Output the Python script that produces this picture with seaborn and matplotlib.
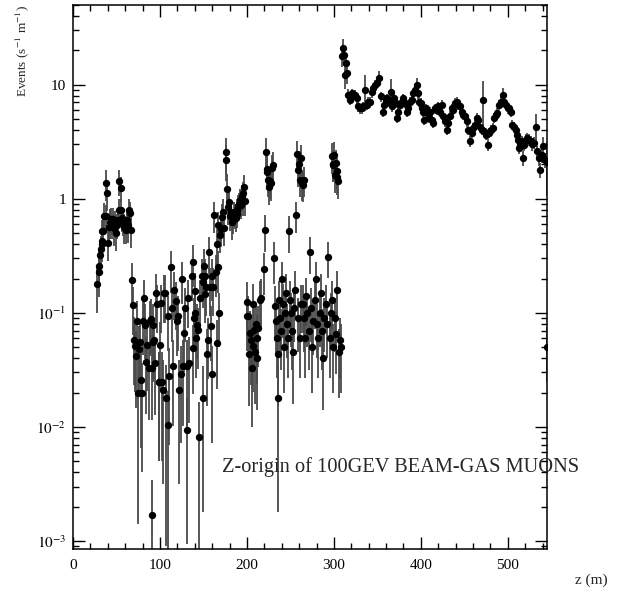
import numpy as np
import pandas as pd
import matplotlib
matplotlib.use("Agg")
import matplotlib.pyplot as plt
import seaborn as sns
from matplotlib.ticker import (FixedLocator, FixedFormatter, MultipleLocator,
                               LogLocator, NullFormatter)

# ---------------- data (z in m, rate in s^-1 m^-1, relative error) ----------------
# cluster near z = 30-67 m
zA = [28.0, 29.5, 30.3, 31.0, 32.2, 32.9, 33.3, 33.7, 34.9, 35.6, 37.5, 37.9, 38.7,
      40.6, 41.8, 42.5, 43.7, 44.8, 45.6, 46.7, 47.9, 49.0, 50.2, 51.3, 52.9, 53.3,
      54.8, 55.2, 56.3, 57.9, 59.0, 60.5, 62.5, 63.6, 64.8, 65.9, 66.7]
yA = [0.18, 0.23, 0.26, 0.32, 0.36, 0.43, 0.40, 0.52, 0.52, 0.70, 1.37, 0.70, 1.12,
      0.41, 0.57, 0.63, 0.66, 0.59, 0.66, 0.55, 0.63, 0.50, 0.59, 0.65, 0.80, 1.42,
      0.80, 1.24, 0.68, 0.63, 0.57, 0.53, 0.65, 0.59, 0.80, 0.75, 0.53]
eA = [0.45, 0.4, 0.35, 0.3, 0.3, 0.3, 0.3, 0.25, 0.3, 0.3, 0.3, 0.25, 0.3,
      0.3, 0.25, 0.3, 0.25, 0.25, 0.25, 0.3, 0.25, 0.3, 0.25, 0.25, 0.25, 0.25,
      0.25, 0.25, 0.25, 0.25, 0.3, 0.25, 0.25, 0.3, 0.25, 0.25, 0.3]

# low-rate region z = 67-171 m
zB = [67.5, 68.6, 70.1, 71.6, 72.8, 73.6, 74.7, 76.2, 77.0, 78.2, 79.7, 80.8, 82.0,
      83.1, 84.3, 85.4, 87.0, 88.5, 89.7, 90.5, 91.0, 92.0, 92.3, 93.1, 94.3, 95.7,
      96.9, 98.5, 99.2, 100.0, 101.1, 102.6, 103.8, 104.6, 105.7, 106.9, 108.9, 109.5,
      110.7, 112.3, 113.4, 115.3, 116.1, 118.4, 119.2, 121.0, 121.5, 123.8, 124.9, 126.8,
      127.3, 128.7, 130.7, 131.2, 132.5, 133.7, 136.4, 137.6, 138.3, 139.1, 140.2, 140.6,
      141.4, 142.2, 144.0, 145.2, 146.0, 147.9, 149.1, 149.8, 150.3, 151.7, 152.3, 152.9,
      154.4, 155.5, 156.7, 157.5, 158.3, 159.4, 159.9, 160.6, 162.4, 164.0, 165.2, 165.7,
      166.3, 167.0, 168.2, 169.0, 170.1]
yB = [0.195, 0.116, 0.058, 0.051, 0.042, 0.084, 0.020, 0.048, 0.056, 0.026, 0.020, 0.085, 0.134,
      0.079, 0.037, 0.052, 0.033, 0.084, 0.088, 0.033, 0.0017, 0.055, 0.079, 0.058, 0.036, 0.15,
      0.12, 0.025, 0.025, 0.052, 0.122, 0.025, 0.021, 0.149, 0.149, 0.018, 0.0104, 0.093,
      0.028, 0.25, 0.11, 0.034, 0.157, 0.128, 0.084, 0.093, 0.021, 0.029, 0.20, 0.034,
      0.067, 0.11, 0.0094, 0.034, 0.134, 0.036, 0.21, 0.28, 0.049, 0.09, 0.10, 0.154,
      0.06, 0.079, 0.071, 0.0082, 0.134, 0.21, 0.185, 0.018, 0.26, 0.147, 0.21, 0.17,
      0.044, 0.058, 0.34, 0.17, 0.076, 0.029, 0.21, 0.17, 0.72, 0.23, 0.40, 0.054,
      0.59, 0.25, 0.10, 0.48, 0.54]
eB = [0.4, 0.45, 0.6, 0.6, 0.65, 0.5, 0.93, 0.6, 0.55, 0.75, 0.8, 0.5, 0.45,
      0.5, 0.65, 0.6, 0.65, 0.5, 0.5, 0.65, 1.0, 0.55, 0.5, 0.55, 0.65, 0.45,
      0.45, 0.8, 0.8, 0.6, 0.45, 0.8, 0.85, 0.45, 0.45, 0.95, 1.0, 0.5,
      0.75, 0.4, 0.5, 0.7, 0.45, 0.45, 0.5, 0.5, 0.85, 0.75, 0.4, 0.7,
      0.55, 0.5, 0.9, 0.7, 0.45, 0.7, 0.4, 0.4, 0.6, 0.5, 0.5, 0.45,
      0.55, 0.5, 0.55, 1.0, 0.45, 0.4, 0.4, 0.9, 0.4, 0.45, 0.4, 0.45,
      0.65, 0.55, 0.35, 0.45, 0.5, 0.75, 0.4, 0.45, 0.3, 0.4, 0.35, 0.6,
      0.3, 0.4, 0.5, 0.3, 0.3]

# medium cluster z = 171-198 m
zM = [171.3, 172.0, 173.9, 175.5, 176.2, 177.0, 178.5, 179.7, 180.6, 181.6, 182.8, 184.3, 185.2,
      186.2, 187.2, 188.2, 189.1, 190.0, 191.0, 192.0, 193.0, 193.9, 195.0, 195.7, 196.9, 198.0]
yM = [0.69, 0.77, 0.55, 2.55, 2.2, 1.22, 0.84, 0.93, 0.70, 0.77, 0.62, 0.65, 0.75,
      0.72, 0.68, 0.80, 0.74, 0.86, 0.90, 0.98, 0.88, 1.05, 0.95, 1.12, 1.28, 0.95]
eM = [0.3, 0.3, 0.3, 0.35, 0.35, 0.35, 0.3, 0.3, 0.25, 0.25, 0.3, 0.25, 0.25,
      0.25, 0.25, 0.25, 0.25, 0.25, 0.25, 0.25, 0.25, 0.25, 0.25, 0.25, 0.25, 0.25]

# low cluster z = 199-221 m
zC = [199.6, 200.2, 201.5, 202.6, 203.4, 204.3, 205.4, 206.6, 207.2, 208.0, 209.2, 210.3,
      211.1, 212.0, 213.0, 214.9, 216.1, 219.9, 220.3]
yC = [0.125, 0.093, 0.093, 0.044, 0.067, 0.058, 0.033, 0.12, 0.051, 0.071, 0.045, 0.080,
      0.040, 0.06, 0.074, 0.13, 0.136, 0.24, 0.53]
eC = [0.5, 0.5, 0.5, 0.65, 0.55, 0.6, 0.7, 0.5, 0.6, 0.55, 0.65, 0.5,
      0.65, 0.6, 0.55, 0.45, 0.45, 0.4, 0.35]

# high cluster z = 221-230 m
zD = [221.5, 222.6, 223.3, 224.5, 225.6, 226.4, 227.6, 228.4, 229.5]
yD = [2.55, 1.70, 1.82, 1.47, 1.27, 1.42, 1.37, 1.86, 1.99]
eD = [0.35, 0.3, 0.3, 0.3, 0.3, 0.3, 0.3, 0.3, 0.3]

# low cluster z = 231-257 m
zE = [231.0, 232.2, 233.2, 234.1, 235.3, 236.0, 237.2, 238.4, 239.5, 240.7, 241.8, 243.0,
      244.2, 245.3, 246.5, 247.6, 248.6, 249.8, 251.0, 252.1, 253.3, 254.4, 255.6, 256.3]
yE = [0.30, 0.114, 0.085, 0.060, 0.018, 0.044, 0.13, 0.09, 0.07, 0.2, 0.12, 0.05,
      0.1, 0.15, 0.08, 0.06, 0.52, 0.13, 0.1, 0.07, 0.045, 0.11, 0.16, 0.72]
eE = [0.4, 0.5, 0.5, 0.55, 0.9, 0.65, 0.45, 0.5, 0.55, 0.4, 0.5, 0.6,
      0.5, 0.45, 0.5, 0.55, 0.35, 0.45, 0.5, 0.55, 0.65, 0.5, 0.45, 0.3]

# high cluster z = 257-266 m
zF = [257.8, 259.0, 260.2, 261.0, 262.2, 263.0, 264.0, 265.5]
yF = [2.48, 1.80, 2.0, 1.47, 2.27, 1.37, 1.33, 1.47]
eF = [0.3, 0.3, 0.3, 0.3, 0.3, 0.3, 0.3, 0.3]

# low cluster z = 258-309 m
zG = [258.5, 260.5, 262.0, 264.0, 265.5, 267.0, 268.0, 269.5, 271.0, 272.4, 274.0, 275.0,
      276.5, 278.0, 279.5, 281.0, 282.0, 283.5, 285.0, 286.5, 288.0, 289.0, 290.5, 292.0,
      293.5, 295.0, 296.5, 298.0, 299.5, 301.0, 302.5, 304.0, 305.5, 307.0, 308.5]
yG = [0.09, 0.06, 0.12, 0.12, 0.09, 0.06, 0.14, 0.10, 0.07, 0.34, 0.11, 0.05,
      0.085, 0.13, 0.20, 0.08, 0.06, 0.10, 0.15, 0.07, 0.04, 0.09, 0.12, 0.08,
      0.31, 0.06, 0.10, 0.13, 0.05, 0.09, 0.065, 0.16, 0.045, 0.058, 0.05]
eG = [0.5, 0.55, 0.45, 0.45, 0.5, 0.55, 0.45, 0.5, 0.55, 0.35, 0.5, 0.6,
      0.5, 0.45, 0.4, 0.5, 0.55, 0.5, 0.45, 0.55, 0.65, 0.5, 0.45, 0.5,
      0.35, 0.55, 0.5, 0.45, 0.6, 0.5, 0.55, 0.45, 0.6, 0.55, 0.6]

# high cluster z = 297-305 m
zK = [297.4, 298.5, 299.2, 300.2, 301.1, 302.3, 303.1, 304.0, 305.0]
yK = [2.35, 2.0, 1.99, 2.43, 1.62, 2.06, 1.74, 1.55, 1.42]
eK = [0.3, 0.3, 0.3, 0.3, 0.3, 0.3, 0.3, 0.3, 0.3]

# high-rate band z = 309-545 m
zH = [308.9, 310.0, 311.5, 312.3, 313.8, 314.6, 316.4, 318.4, 320.3, 322.2,
      324.1, 326.1, 327.9, 329.9, 331.8, 333.7, 335.6, 337.6, 339.4, 341.4,
      343.3, 345.2, 347.1, 349.8, 352.1, 354.0, 356.0, 357.5, 359.8, 361.3,
      363.6, 365.2, 367.0, 369.0, 370.9, 372.1, 373.9, 375.9, 377.8, 379.7,
      381.6, 383.6, 385.4, 387.4, 389.3, 391.1, 393.1, 395.1, 396.2, 398.0,
      399.7, 401.1, 402.6, 403.8, 405.7, 407.2, 408.8, 410.3, 412.3, 414.1,
      416.1, 418.0, 419.9, 421.8, 423.8, 425.6, 427.6, 429.5, 431.4, 433.3,
      435.3, 437.1, 439.1, 441.0, 442.9, 444.8, 446.8, 448.6, 450.6, 452.5,
      454.4, 456.3, 458.3, 460.1, 462.1, 464.0, 465.9, 467.8, 469.8, 471.6,
      472.4, 474.7, 476.7, 478.5, 480.5, 482.4, 483.9, 485.9, 487.7, 490.0,
      492.0, 493.9, 495.4, 497.7, 499.7, 501.5, 503.1, 504.9, 506.9, 508.9,
      510.0, 511.1, 512.6, 513.8, 515.7, 516.9, 518.4, 520.3, 522.2, 524.1,
      526.1, 527.9, 529.9, 531.8, 533.7, 535.6, 536.8, 538.7, 540.6, 542.5,
      544.5]
yH = [17.7, 21.0, 18.3, 12.2, 15.5, 12.6, 8.2, 7.4, 8.4, 7.9,
      8.2, 7.6, 6.45, 6.2, 6.2, 6.45, 9.0, 6.7, 7.1, 7.1,
      8.7, 9.3, 10.0, 10.3, 11.4, 7.9, 5.8, 6.7, 7.4, 7.6,
      7.1, 8.7, 6.45, 7.6, 6.9, 5.1, 5.8, 6.7, 7.1, 7.6,
      6.9, 5.8, 6.2, 7.1, 7.4, 8.4, 9.0, 10.0, 8.4, 7.1,
      6.9, 6.2, 5.8, 4.9, 6.2, 5.65, 5.1, 5.8, 4.9, 4.6,
      6.2, 6.0, 6.45, 5.8, 6.7, 5.3, 4.76, 4.0, 4.6, 5.3,
      6.2, 6.0, 6.9, 7.1, 6.7, 6.45, 5.8, 5.45, 5.3, 4.76,
      4.0, 3.2, 3.77, 4.17, 4.45, 5.1, 4.9, 4.3, 4.0, 7.4,
      3.9, 3.65, 2.97, 3.77, 4.0, 4.17, 5.1, 5.45, 5.65, 6.7,
      7.1, 8.2, 7.1, 6.7, 6.2, 6.2, 5.8, 4.45, 4.3, 4.0,
      3.65, 3.3, 2.78, 2.97, 3.2, 2.27, 2.97, 3.3, 3.4, 3.3,
      3.2, 3.0, 3.1, 4.3, 2.6, 2.3, 1.8, 2.4, 2.9, 2.2,
      2.1]
eH = [0.2, 0.2, 0.2, 0.25, 0.2, 0.2, 0.12, 0.1, 0.1, 0.1,
      0.1, 0.1, 0.1, 0.1, 0.1, 0.1, 0.35, 0.1, 0.1, 0.1,
      0.12, 0.1, 0.1, 0.1, 0.15, 0.1, 0.1, 0.1, 0.1, 0.1,
      0.1, 0.3, 0.1, 0.1, 0.1, 0.1, 0.1, 0.1, 0.1, 0.1,
      0.1, 0.1, 0.1, 0.1, 0.1, 0.1, 0.12, 0.15, 0.1, 0.1,
      0.1, 0.1, 0.1, 0.1, 0.1, 0.1, 0.1, 0.1, 0.1, 0.1,
      0.1, 0.1, 0.1, 0.1, 0.1, 0.1, 0.1, 0.1, 0.1, 0.1,
      0.1, 0.1, 0.1, 0.1, 0.1, 0.1, 0.1, 0.1, 0.1, 0.1,
      0.1, 0.12, 0.1, 0.1, 0.1, 0.1, 0.1, 0.1, 0.1, 0.45,
      0.1, 0.1, 0.12, 0.1, 0.1, 0.1, 0.1, 0.1, 0.1, 0.1,
      0.1, 0.15, 0.1, 0.1, 0.1, 0.1, 0.1, 0.1, 0.1, 0.1,
      0.1, 0.12, 0.12, 0.12, 0.12, 0.15, 0.12, 0.12, 0.12, 0.12,
      0.12, 0.12, 0.12, 0.3, 0.12, 0.15, 0.15, 0.15, 0.2, 0.15,
      0.5]

# isolated point at the end of the range
zL = [545.0]
yL = [0.05]
eL = [0.5]

title_text = "Z-origin of 100GEV BEAM-GAS MUONS"
ytick_vals = [1e-3, 1e-2, 1e-1, 1, 10]
ytick_labels = ["$10^{-3}$", "$10^{-2}$", "$10^{-1}$", "1", "10"]
xtick_vals = [0, 100, 200, 300, 400, 500]

# ---------------- build table ----------------
segments = [(zA, yA, eA), (zB, yB, eB), (zM, yM, eM), (zC, yC, eC), (zD, yD, eD),
            (zE, yE, eE), (zF, yF, eF), (zG, yG, eG), (zK, yK, eK), (zH, yH, eH),
            (zL, yL, eL)]
frames = []
for z, y, e in segments:
    n = min(len(z), len(y), len(e))
    frames.append(pd.DataFrame({"z": z[:n], "rate": y[:n], "rel": e[:n]}))
df = pd.concat(frames, ignore_index=True)
df["lo"] = df["rate"] * (1 - df["rel"])
df.loc[df["lo"] <= 0, "lo"] = 1e-5
df["hi"] = df["rate"] * (1 + df["rel"])

# ---------------- figure ----------------
sns.set_style("ticks")
plt.rcParams["font.family"] = ["Liberation Serif", "DejaVu Serif"]
plt.rcParams["mathtext.fontset"] = "stix"

W, H = 623, 590
fig = plt.figure(figsize=(W / 100, H / 100), dpi=100)
L, R, T, B = 73, 547, 5, 549
ax = fig.add_axes([L / W, 1 - B / H, (R - L) / W, (B - T) / H])
ax.set_yscale("log")

ax.vlines(df["z"], df["lo"], df["hi"], colors="#4a4a4a", linewidth=1.3, zorder=2)
sns.scatterplot(data=df, x="z", y="rate", color="black", s=28, linewidth=0,
                ax=ax, zorder=3, legend=False)

ax.set_xlim(0, 545)
ax.set_ylim(8.5e-4, 50)

ax.xaxis.set_major_locator(FixedLocator(xtick_vals))
ax.xaxis.set_minor_locator(MultipleLocator(20))
ax.yaxis.set_major_locator(FixedLocator(ytick_vals))
ax.yaxis.set_major_formatter(FixedFormatter(ytick_labels))
ax.yaxis.set_minor_locator(LogLocator(base=10, subs=np.arange(2, 10), numticks=30))
ax.yaxis.set_minor_formatter(NullFormatter())

ax.tick_params(which="both", direction="in", top=True, right=True, width=1.0,
               colors="black", labelsize=11)
ax.tick_params(which="major", length=8.6)
ax.tick_params(which="minor", length=4.3)
ax.tick_params(axis="x", which="major", pad=7)
ax.tick_params(axis="y", which="major", pad=5)
for s in ax.spines.values():
    s.set_linewidth(1.1)
    s.set_color("black")

ax.set_xlabel("z (m)", fontsize=11, loc="right")
ax.xaxis.set_label_coords(1.127, -0.045)
ax.set_ylabel("Events (s$^{-1}$ m$^{-1}$)", fontsize=9.5, loc="top")
ax.yaxis.set_label_coords(-0.088, 1.0)

ax.text(0.314, 0.151, title_text, transform=ax.transAxes, fontsize=14.7,
        ha="left", va="center")

fig.savefig("out.png", dpi=100)
